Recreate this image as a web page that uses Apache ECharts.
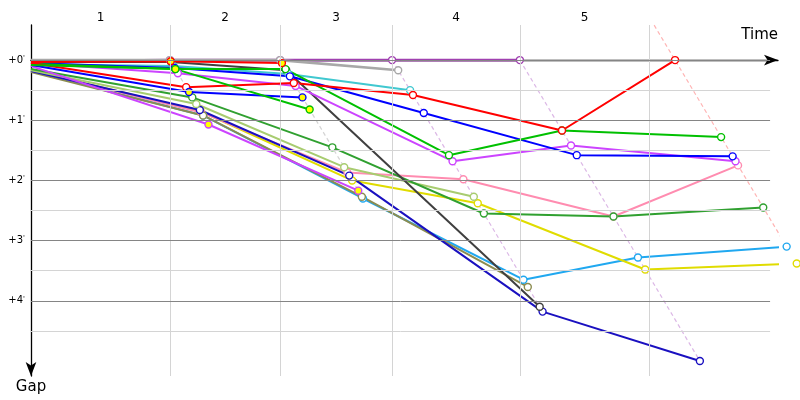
<!DOCTYPE html>
<html>
<head>
<meta charset="utf-8">
<script src="https://cdn.jsdelivr.net/npm/echarts@6/dist/echarts.min.js"></script>
<style>html,body{margin:0;padding:0;background:#fff}#c{width:800px;height:400px}</style>
</head>
<body>
<div id="c"></div>
<script>
// ---- data (time and gap in minutes) ----
const lapLabels = ['1', '2', '3', '4', '5'];
const lapLines = [3.86, 6.92, 10.03, 13.58, 17.17];     // vertical lap lines
const lapRefTimes = [3.86, 6.92, 10.03, 13.58, 17.89];  // leader lap times (gap 0)
const gapTicks = [0, 1, 2, 3, 4];
const gapMinor = [0.5, 1.5, 2.5, 3.5, 4.5];

const riderColors = ['#a040b0', '#a8a8a8', '#ff0000', '#00c000', '#0000ff', '#cc44ff',
  '#ff0000', '#00c000', '#0000ff', '#cc44ff', '#40c8d0', '#404040', '#30a030',
  '#a8cc70', '#1a10c0', '#8c8c50', '#ff8cb0', '#e0dc00', '#20a8f0'];
const riderFilled = [false, false, true, true, true, true,
  false, false, false, false, false, false, false,
  false, false, false, false, false, false];
// gap at start, then after lap 1, 2, ...
const gapsPurple     = [0.02, 0, 0, 0, 0];
const gapsGray       = [0, 0, 0, 0.17];
const gapsRedA       = [0.03, 0.02, 0.05];
const gapsGreenA     = [0.08, 0.15, 0.82];
const gapsBlueA      = [0.08, 0.53, 0.62];
const gapsMagentaA   = [0.1, 1.07, 2.17];
const gapsRedB       = [0.05, 0.45, 0.38, 0.58, 1.17, 0];
const gapsGreenB     = [0.06, 0.15, 0.15, 1.58, 1.17, 1.28];
const gapsBlueB      = [0.05, 0.13, 0.27, 0.88, 1.58, 1.6];
const gapsVioletB    = [0.05, 0.22, 0.43, 1.68, 1.42, 1.68];
const gapsCyan       = [0.07, 0.1, 0.23, 0.5];
const gapsBlack      = [0.03, 0.03, 0.17, 4.1];
const gapsDarkGreen  = [0.15, 0.62, 1.45, 2.55, 2.6, 2.45];
const gapsLightGreen = [0.17, 0.73, 1.78, 2.27];
const gapsNavy       = [0.18, 0.83, 1.92, 4.18, 5.0];
const gapsOlive      = [0.2, 0.92, 2.27, 3.77];
const gapsPink       = [0.17, 0.87, 1.87, 1.98, 2.6, 1.75];
const gapsYellow     = [0.17, 0.85, 2.0, 2.38, 3.48, 3.38];
const gapsLightBlue  = [0.18, 0.92, 2.3, 3.65, 3.28, 3.1];

const riderGaps = [gapsPurple, gapsGray, gapsRedA, gapsGreenA, gapsBlueA, gapsMagentaA,
  gapsRedB, gapsGreenB, gapsBlueB, gapsVioletB, gapsCyan, gapsBlack, gapsDarkGreen,
  gapsLightGreen, gapsNavy, gapsOlive, gapsPink, gapsYellow, gapsLightBlue];
// drawing order (later on top)
const drawOrder = [0, 1, 18, 17, 16, 15, 14, 13, 12, 11, 10, 9, 8, 7, 6, 5, 4, 3, 2];

const dashStart = [0, 0, 0, 0, -0.58];
const dashColors = ['#d4d4d4', '#d4d4d4', '#dcb8e6', '#dcb8e6', '#ffb4b4'];

// ---- build ----
const xMax = 20.75, xGridEnd = 20.53, yMin = -0.583, yMax = 5.25;
const mids = lapLines.map((v, i) => ((i === 0 ? 0 : lapLines[i - 1]) + v) / 2);

const series = [];
// grid lines
const gl = [];
gapMinor.forEach(v => gl.push([{ coord: [0, v], lineStyle: { color: '#d4d4d4' } }, { coord: [xGridEnd, v] }]));
lapLines.forEach(v => gl.push({ xAxis: v, lineStyle: { color: '#d4d4d4' } }));
gapTicks.forEach(v => gl.push([{ coord: [0, v], lineStyle: { color: '#858585' } }, { coord: [xGridEnd, v] }]));
series.push({
  type: 'line', data: [], z: 1, silent: true,
  markLine: { silent: true, symbol: ['none', 'none'], label: { show: false },
    lineStyle: { type: 'solid', width: 1 }, animation: false, data: gl }
});
// dashed lap diagonals
lapRefTimes.forEach((t, k) => {
  let maxG = -Infinity;
  riderGaps.forEach(g => { if (g.length > k + 1) maxG = Math.max(maxG, g[k + 1]); });
  series.push({
    type: 'line', z: 2, silent: true, symbol: 'none', clip: false,
    lineStyle: { color: dashColors[k], width: 1.2, type: [4, 3] },
    data: [[t + dashStart[k], dashStart[k]], [t + maxG, maxG]]
  });
});
// riders
drawOrder.forEach(i => {
  const g = riderGaps[i];
  const col = riderColors[i];
  const data = g.map((v, k) => k === 0 ? { value: [0, v], symbol: 'none' } : [lapRefTimes[k - 1] + v, v]);
  series.push({
    type: 'line', z: 3, data, clip: false,
    symbol: 'circle', symbolSize: 7, showSymbol: true,
    color: col,
    lineStyle: { color: col, width: (i < 2) ? 2.6 : 2 },
    itemStyle: { color: riderFilled[i] ? '#ffff00' : '#ffffff', borderColor: col, borderWidth: 1.4 },
    emphasis: { disabled: true }
  });
});

const chart = echarts.init(document.getElementById('c'), null, { renderer: 'canvas' });
chart.setOption({
  animation: false,
  backgroundColor: '#fff',
  textStyle: { fontFamily: 'DejaVu Sans' },
  title: { text: 'Time', right: 22, top: 28, padding: 0,
    textStyle: { color: '#000', fontSize: 15, fontWeight: 'normal', fontFamily: 'DejaVu Sans' } },
  grid: { left: 31, right: 22, top: 25, bottom: 24, containLabel: false },
  xAxis: {
    type: 'value', position: 'top', min: 0, max: xMax,
    axisLine: { show: true, lineStyle: { color: '#000', width: 1.3 }, symbol: ['none', 'arrow'], symbolSize: [8, 14] },
    axisTick: { show: false },
    splitLine: { show: false },
    axisLabel: {
      customValues: mids, color: '#000', fontSize: 12, margin: 1,
      formatter: v => { const i = mids.findIndex(m => Math.abs(m - v) < 1e-6); return i >= 0 ? lapLabels[i] : ''; }
    }
  },
  yAxis: {
    type: 'value', inverse: true, min: yMin, max: yMax,
    name: 'Gap', nameLocation: 'end', nameGap: 4, nameMoveOverlap: false,
    nameTextStyle: { color: '#000', fontSize: 15, align: 'center', verticalAlign: 'top', fontFamily: 'DejaVu Sans' },
    axisLine: { show: true, onZero: false, lineStyle: { color: '#000', width: 1.3 }, symbol: ['arrow', 'none'], symbolSize: [8, 14] },
    axisTick: { show: false },
    splitLine: { show: false },
    axisLabel: {
      customValues: gapTicks, color: '#000', fontSize: 10, margin: 6,
      formatter: v => '+' + v + "{p|'}",
      rich: { p: { fontSize: 7, verticalAlign: 'top', color: '#000', padding: [0, 0, 4, 0] } }
    }
  },
  series
});
</script>
</body>
</html>
